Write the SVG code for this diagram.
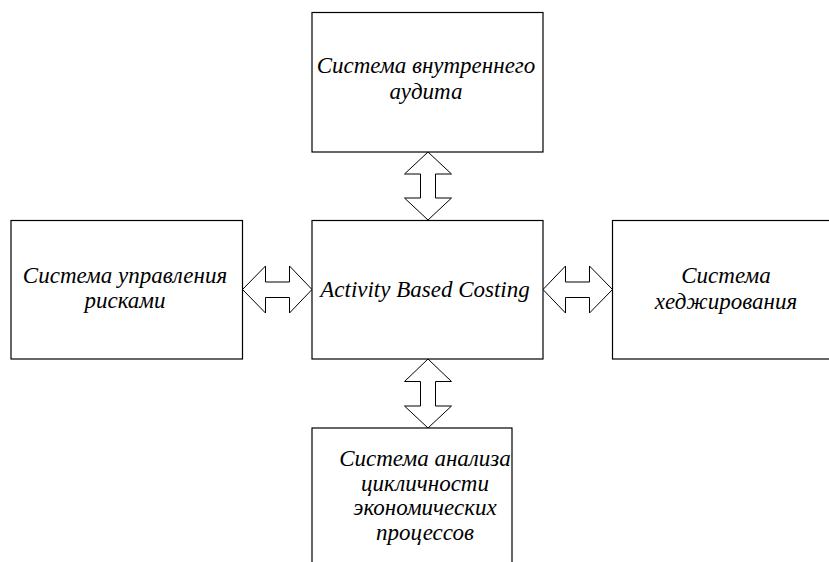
<svg xmlns="http://www.w3.org/2000/svg" width="829" height="562" viewBox="0 0 829 562">
<style>
.box{fill:#fff;stroke:#000;stroke-width:1.2}
.arr{fill:#fff;stroke:#000;stroke-width:1;stroke-linejoin:miter}
.t{font-family:"Liberation Serif","Times New Roman",serif;font-style:italic;font-size:23px;fill:#000;text-anchor:middle}
</style>
<rect width="829" height="562" fill="#fff"/>
<g id="connectors">
<path class="arr" d="M428,152 L451.5,174 L435.5,174 L435.5,198 L451.5,198 L428,220 L404.5,198 L420.5,198 L420.5,174 L404.5,174 Z"/>
<path class="arr" d="M242.5,289.5 L265.5,266 L265.5,282 L289.5,282 L289.5,266 L312,289.5 L289.5,313 L289.5,297.5 L265.5,297.5 L265.5,313 Z"/>
<path class="arr" d="M543,289.5 L565.5,266 L565.5,282 L589.5,282 L589.5,266 L612.5,289.5 L589.5,313 L589.5,297.5 L565.5,297.5 L565.5,313 Z"/>
<path class="arr" d="M428,359 L451.5,381.5 L435.5,381.5 L435.5,406 L451.5,406 L428,428 L404.5,406 L420.5,406 L420.5,381.5 L404.5,381.5 Z"/>
</g>
<g id="audit">
<rect class="box" x="312" y="12.5" width="231" height="139.5"/>
<text class="t" x="426" y="73">Система внутреннего</text>
<text class="t" x="426" y="99">аудита</text>
</g>
<g id="risk">
<rect class="box" x="11" y="220.5" width="231.5" height="138.5"/>
<text class="t" x="125" y="283">Система управления</text>
<text class="t" x="125" y="308">рисками</text>
</g>
<g id="abc">
<rect class="box" x="312" y="220.5" width="231" height="138.5"/>
<text class="t" x="425" y="297">Activity Based Costing</text>
</g>
<g id="hedge">
<rect class="box" x="612.5" y="220.5" width="230" height="138.5"/>
<text class="t" x="726" y="283">Система</text>
<text class="t" x="726" y="309">хеджирования</text>
</g>
<g id="cycle">
<rect class="box" x="312" y="428" width="200" height="160"/>
<text class="t" x="425" y="466">Система анализа</text>
<text class="t" x="425" y="491">цикличности</text>
<text class="t" x="425" y="515">экономических</text>
<text class="t" x="425" y="540">процессов</text>
</g>
</svg>
